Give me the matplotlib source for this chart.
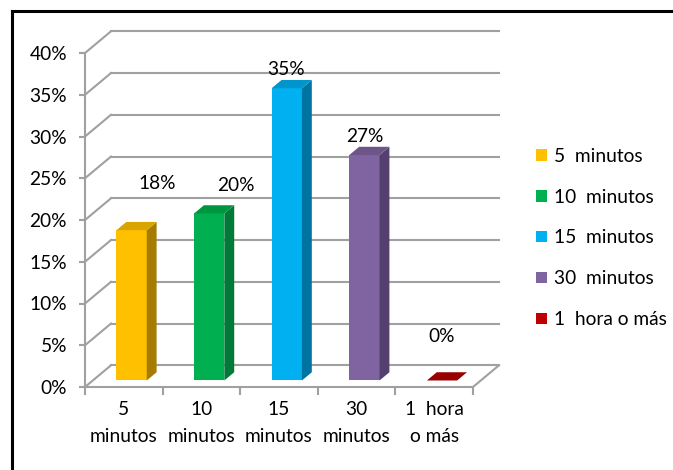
import matplotlib.pyplot as plt
from matplotlib.patches import Polygon, Patch
from matplotlib.lines import Line2D

categorias = ['5\nminutos', '10\nminutos', '15\nminutos', '30\nminutos', '1  hora\no más']
leyenda = ['5  minutos', '10  minutos', '15  minutos', '30  minutos', '1  hora o más']
porcentajes = [18, 20, 35, 27, 0]
etiquetas = ['18%', '20%', '35%', '27%', '0%']
marcas_y = [0, 5, 10, 15, 20, 25, 30, 35, 40]

# colores: cara frontal, lateral, superior y leyenda
frente = ['#FFC000', '#00B050', '#00B0F0', '#8064A2', '#990000']
lateral = ['#A67C00', '#007A37', '#0074A0', '#54406E', '#700000']
superior = ['#D9A300', '#009640', '#0095CC', '#6D558A', '#A00000']
color_leyenda = ['#FFC000', '#00B050', '#00B0F0', '#8064A2', '#C00000']

# posicion de las etiquetas de valor (desplazamiento respecto a cada barra)
etq_dx = [0.93, 0.95, 0.59, 0.60, 0.59]
etq_dy = [6.4, 4.1, 3.0, 3.0, 6.1]

plt.rcParams['font.family'] = ['Lato', 'DejaVu Sans']
FS = 13.8
GRIS = '#A0A0A0'

W, H = 673, 470
fig = plt.figure(figsize=(W / 100, H / 100), dpi=100)
ax = fig.add_axes([85 / W, (H - 387) / H, 388 / W, 334 / H])
ax.set_xlim(0, 5)
ax.set_ylim(0, 40)

# profundidad del "3D" en unidades de datos
DX, DY = 0.335, 2.6

# pared del fondo y pared izquierda
for y in marcas_y:
    ax.plot([DX, 5 + DX], [y + DY, y + DY], color=GRIS, lw=1.5, clip_on=False)
    ax.plot([0, DX], [y, y + DY], color=GRIS, lw=1.5, clip_on=False)
# borde derecho del suelo
ax.plot([5, 5 + DX], [0, DY], color=GRIS, lw=1.5, clip_on=False)

# barras con cara frontal, lateral y superior
f0, f1 = 0.30, 0.68
ancho = 0.39
for i, v in enumerate(porcentajes):
    x0 = i + 0.305 + f0 * DX
    x1 = x0 + ancho
    b = f0 * DY
    ox, oy = (f1 - f0) * DX, (f1 - f0) * DY
    top = v + b
    z = 3 + i
    if v > 0:
        ax.add_patch(Polygon([(x0, b), (x1, b), (x1, top), (x0, top)],
                             closed=True, fc=frente[i], ec='none', zorder=z, clip_on=False))
        ax.add_patch(Polygon([(x1, b), (x1 + ox, b + oy), (x1 + ox, top + oy), (x1, top)],
                             closed=True, fc=lateral[i], ec='none', zorder=z, clip_on=False))
    ax.add_patch(Polygon([(x0, top), (x1, top), (x1 + ox, top + oy), (x0 + ox, top + oy)],
                         closed=True, fc=superior[i] if v > 0 else frente[i], ec='none',
                         zorder=z, clip_on=False))
    ax.text(i + etq_dx[i], v + etq_dy[i], etiquetas[i], ha='center', va='center',
            fontsize=FS, zorder=10)

# ejes frontales
for s in ['top', 'right']:
    ax.spines[s].set_visible(False)
for s in ['left', 'bottom']:
    ax.spines[s].set_color(GRIS)
    ax.spines[s].set_linewidth(1.5)
ax.set_yticks(marcas_y)
ax.set_yticklabels([f'{y}%' for y in marcas_y], fontsize=FS)
ax.tick_params(axis='y', length=4, width=1.5, color=GRIS, pad=9)
ax.set_xticks(range(6))
ax.set_xticklabels([])
ax.set_xticks([i + 0.5 for i in range(5)], minor=True)
ax.set_xticklabels(categorias, minor=True, fontsize=FS, linespacing=1.75)
ax.tick_params(axis='x', which='major', length=6, width=1.5, color=GRIS, direction='out')
ax.tick_params(axis='x', which='minor', length=0, pad=10)
ax.patch.set_visible(False)

# leyenda
handles = [Patch(fc=c, ec='none') for c in color_leyenda]
fig.legend(handles, leyenda, loc='center left', bbox_to_anchor=(519 / W, 1 - 238 / H),
           frameon=False, fontsize=FS, handlelength=0.55, handleheight=0.55,
           handletextpad=0.4, labelspacing=1.25)

# marco del grafico
fig.add_artist(Line2D([12 / W, 1], [1 - 11 / H, 1 - 11 / H], color='black', lw=2.2))
fig.add_artist(Line2D([12 / W, 12 / W], [0, 1 - 11 / H], color='black', lw=2.2))

fig.savefig('out.png', dpi=100)
